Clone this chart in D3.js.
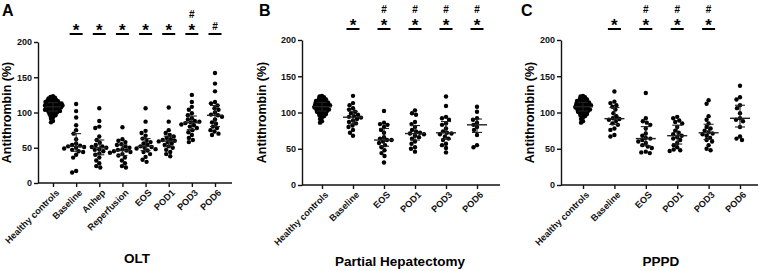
<!DOCTYPE html>
<html>
<head>
<meta charset="utf-8">
<script src="https://cdn.jsdelivr.net/npm/d3@7"></script>
<style>
  body { margin: 0; background: #fff; }
  svg  { display: block; font-family: "Liberation Sans", Arial, sans-serif; font-weight: bold; }
</style>
</head>
<body>
<svg id="chart" width="762" height="271"></svg>
<script>
// ── Data (antithrombin %) ─────────────────────────────────────────────────────
const controls = [123,122,121,120,119,118,118,117,116,116,115,115,114,114,113,113,112,112,111,111,
                  110,110,110,109,109,108,108,107,107,106,106,105,105,104,104,103,103,102,102,101,
                  100,100,99,98,97,96,95,93,91,88,86];

const oltGroups = ["Healthy controls","Baseline","Anhep","Reperfusion","EOS","POD1","POD3","POD6"];
const oltValues = [
  controls,
  [112,102,93,82,75,70,62,56,54,53,52,51,50,49,47,45,44,40,36,17,15],
  [106,88,80,78,66,61,57,54,52,51,50,48,47,45,42,40,36,32,28,24,22],
  [79,62,60,58,55,54,52,50,48,47,46,45,44,43,41,39,36,32,28,24,22],
  [106,87,74,71,67,63,60,58,56,54,52,51,50,49,48,46,44,41,37,33,30],
  [107,87,75,71,68,66,64,62,61,60,59,58,56,54,52,50,47,44,41,38],
  [125,115,108,104,99,96,92,90,88,87,86,85,83,82,80,78,75,72,68,64,61,58],
  [156,141,130,115,113,110,106,104,100,97,96,94,90,86,84,80,78,75,73,70,68]
];
const oltMarks = ["", "*", "*", "*", "*", "*", "*#", "#"];

const phGroups = ["Healthy controls","Baseline","EOS","POD1","POD3","POD6"];
const phValues = [
  controls,
  [123,113,110,106,104,101,99,97,95,94,93,91,89,87,85,82,80,76,72,68],
  [102,86,84,83,80,76,72,66,64,62,62,60,58,55,52,48,44,40,31],
  [103,99,97,87,84,80,76,74,72,71,70,68,66,64,60,57,52,50,46],
  [122,109,94,92,90,85,83,78,74,72,71,70,67,64,62,57,55,51,45],
  [108,101,92,90,86,83,80,76,69,55,52]
];
const phMarks = ["", "*", "*#", "*#", "*#", "*#"];

const ppGroups = ["Healthy controls","Baseline","EOS","POD1","POD3","POD6"];
const ppValues = [
  controls,
  [129,115,113,110,108,104,99,95,92,91,90,88,85,83,78,76,69,67],
  [127,92,88,86,83,78,71,68,65,64,62,60,58,55,53,51,46,45,44],
  [94,92,89,87,85,80,75,72,70,68,66,64,62,58,55,52,49,48,47],
  [117,112,95,90,85,80,78,75,73,71,70,68,65,62,60,55,50,48],
  [137,121,118,110,106,99,92,90,88,80,67,64,62]
];
const ppMarks = ["", "*", "*#", "*#", "*#", ""];

const yTicks = [0, 50, 100, 150, 200];
const yTitle = "Antithrombin (%)";

// ── Layout ────────────────────────────────────────────────────────────────────
const panels = [
  { letter: "A", title: "OLT", groups: oltGroups, values: oltValues, marks: oltMarks,
    axisX: 38, right: 232, x0: 53, x1: 215, y0: 183, y200: 42, sigY: 34,
    letterX: 2, titleX: 137, titleY: 263, yTitleX: 7, medHW: 8 },
  { letter: "B", title: "Partial Hepatectomy", groups: phGroups, values: phValues, marks: phMarks,
    axisX: 302, right: 500, x0: 322, x1: 477, y0: 185, y200: 40, sigY: 29,
    letterX: 259, titleX: 400, titleY: 266, yTitleX: 262, medHW: 10 },
  { letter: "C", title: "PPPD", groups: ppGroups, values: ppValues, marks: ppMarks,
    axisX: 561, right: 758, x0: 583, x1: 740, y0: 185, y200: 40, sigY: 29,
    letterX: 521, titleX: 661, titleY: 266, yTitleX: 530, medHW: 10 }
];

const R = 2.2;
const INK = "#111";
const svg = d3.select("#chart");

// simple deterministic beeswarm: push each dot sideways until it clears the rest
// (the big control group overlaps a lot in the original, so pack it tighter)
function swarm(vals, y) {
  const placed = [];
  const minD = vals.length > 30 ? 2.2 : 2 * R - 0.3;
  vals.slice().sort((a, b) => b - a).forEach(v => {
    const py = y(v);
    for (let k = 0; ; k++) {
      const off = (k % 2 ? -1 : 1) * Math.ceil(k / 2) * 0.5;
      const hit = placed.some(p => Math.hypot(p.dx - off, p.py - py) < minD);
      if (!hit) { placed.push({ v, py, dx: off }); break; }
    }
  });
  return placed;
}

panels.forEach(p => {
  const g = svg.append("g");
  const y = d3.scaleLinear().domain([0, 200]).range([p.y0, p.y200]);
  const x = d3.scalePoint().domain(p.groups).range([p.x0, p.x1]);

  // ── Axes ────────────────────────────────────────────────────────────────
  g.append("g").attr("transform", `translate(${p.axisX},0)`)
    .call(d3.axisLeft(y).tickValues(yTicks).tickSize(4).tickSizeOuter(0))
    .call(a => a.selectAll("path,line").attr("stroke", INK).attr("stroke-width", 1.4))
    .call(a => a.selectAll("text").attr("fill", INK).attr("font-size", 9)
      .attr("font-family", null).attr("x", -6));

  g.append("g").attr("transform", `translate(0,${p.y0})`)
    .call(d3.axisBottom(x).tickSize(4).tickSizeOuter(0))
    .call(a => a.select(".domain").attr("d", `M${p.axisX},0H${p.right}`))
    .call(a => a.selectAll("path,line").attr("stroke", INK).attr("stroke-width", 1.4))
    .call(a => a.selectAll("text").attr("fill", INK).attr("font-size", 9.2)
      .attr("font-family", null)
      .attr("x", 0).attr("y", 0).attr("dy", "0.35em")
      .attr("text-anchor", "end")
      .attr("transform", "translate(4,8) rotate(-45)"));

  // ── Dots, median + IQR ──────────────────────────────────────────────────
  p.values.forEach((vals, i) => {
    const cx = x(p.groups[i]);
    const dots = swarm(vals, y);
    g.append("g").selectAll("circle").data(dots).join("circle")
      .attr("cx", d => cx + d.dx).attr("cy", d => d.py)
      .attr("r", R).attr("fill", "#000");

    const sorted = vals.slice().sort(d3.ascending);
    const med = d3.quantile(sorted, 0.5);
    const q1 = d3.quantile(sorted, 0.25);
    const q3 = d3.quantile(sorted, 0.75);
    const s = g.append("g").attr("stroke", "#222").attr("stroke-width", 1.1);
    s.append("line").attr("x1", cx).attr("x2", cx).attr("y1", y(q1)).attr("y2", y(q3));
    [q1, q3].forEach(q => s.append("line")
      .attr("x1", cx - 5).attr("x2", cx + 5).attr("y1", y(q)).attr("y2", y(q)));
    s.append("line").attr("x1", cx - p.medHW).attr("x2", cx + p.medHW)
      .attr("y1", y(med)).attr("y2", y(med)).attr("stroke-width", 1.4);

    // significance marks
    const m = p.marks[i];
    if (m) {
      g.append("line").attr("x1", cx - 6.5).attr("x2", cx + 6.5)
        .attr("y1", p.sigY).attr("y2", p.sigY)
        .attr("stroke", "#000").attr("stroke-width", 2);
      m.split("").forEach((ch, k) => {
        const cy = p.sigY - 7.5 - k * 12.5;
        const star = ch === "*";
        g.append("text").attr("x", cx).attr("y", star ? cy + 9.5 : cy + 3.6)
          .attr("text-anchor", "middle").attr("font-size", star ? 17 : 10)
          .attr("fill", "#000").text(ch);
      });
    }
  });

  // ── Titles ──────────────────────────────────────────────────────────────
  g.append("text").attr("x", p.letterX).attr("y", 16)
    .attr("font-size", 16).attr("fill", "#000").text(p.letter);

  g.append("text")
    .attr("transform", `translate(${p.yTitleX},${(p.y0 + p.y200) / 2}) rotate(-90)`)
    .attr("text-anchor", "middle").attr("dominant-baseline", "central")
    .attr("font-size", 12.5).attr("fill", "#000").text(yTitle);

  g.append("text").attr("x", p.titleX).attr("y", p.titleY)
    .attr("text-anchor", "middle").attr("font-size", 13.5)
    .attr("fill", "#000").text(p.title);
});
</script>
</body>
</html>
